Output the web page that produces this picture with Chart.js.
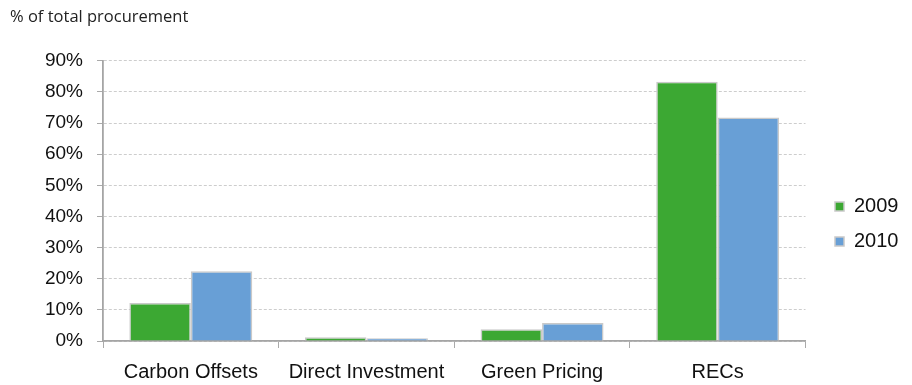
<!DOCTYPE html>
<html>
<head>
<meta charset="utf-8">
<title>% of total procurement</title>
<script src="https://cdn.jsdelivr.net/npm/chart.js"></script>
<style>
    html, body {
        margin: 0;
        padding: 0;
        background: #fff;
    }
    .chart-box {
        width: 912px;
        height: 385px;
    }
</style>
</head>
<body>
<div class="chart-box"><canvas id="procurementChart"></canvas></div>
<script>
    // values (percent of total procurement)
    const categories = ['Carbon Offsets', 'Direct Investment', 'Green Pricing', 'RECs'];
    const years = ['2009', '2010'];
    const values2009 = [12.2, 1.2, 3.8, 83.3];
    const values2010 = [22.4, 0.9, 5.8, 71.8];
    const yTicks = [0, 10, 20, 30, 40, 50, 60, 70, 80, 90];

    const barColors = ['#3ca833', '#689fd6'];
    const fontFamily = '"Liberation Sans", Arial, sans-serif';

    // nudge the legend next to the plot, like the original
    const legendShift = {
        id: 'legendShift',
        afterLayout(chart) {
            const lg = chart.legend;
            const dx = 835 - (lg.left + lg.options.labels.padding);
            const dy = 28;
            lg.left += dx; lg.right += dx;
            lg.top += dy; lg.bottom += dy;
        }
    };

    const ctx = document.getElementById('procurementChart');
    new Chart(ctx, {
        type: 'bar',
        data: {
            labels: categories,
            datasets: [values2009, values2010].map((vals, i) => ({
                label: years[i],
                data: vals,
                backgroundColor: barColors[i],
                borderColor: '#c9c9c9',
                borderWidth: 1.5,
                borderSkipped: 'bottom',
                categoryPercentage: 0.7,
                barPercentage: 1.0
            }))
        },
        options: {
            responsive: true,
            maintainAspectRatio: false,
            animation: false,
            layout: {
                padding: { left: 10, right: 18, top: 7, bottom: 0 }
            },
            plugins: {
                title: {
                    display: true,
                    text: '% of total procurement',
                    align: 'start',
                    color: '#222',
                    font: { family: '"Open Sans", sans-serif', size: 16.5, weight: 'normal' },
                    padding: { top: 0, bottom: 34 }
                },
                legend: {
                    position: 'right',
                    labels: {
                        color: '#111',
                        font: { family: fontFamily, size: 20 },
                        boxWidth: 9,
                        boxHeight: 9,
                        padding: 15
                    }
                },
                tooltip: { enabled: false }
            },
            scales: {
                x: {
                    offset: true,
                    afterFit: axis => { axis.height = 44; },
                    grid: {
                        offset: true,
                        drawOnChartArea: false,
                        drawTicks: true,
                        tickLength: 7,
                        color: '#aaa'
                    },
                    border: { color: '#a5a5a5', width: 1.8 },
                    ticks: {
                        color: '#111',
                        font: { family: fontFamily, size: 20 },
                        padding: 12,
                        maxRotation: 0
                    }
                },
                y: {
                    min: 0,
                    max: 90,
                    afterFit: axis => { axis.width = 93; },
                    afterBuildTicks: axis => {
                        axis.ticks = yTicks.map(v => ({ value: v }));
                    },
                    grid: {
                        color: '#cdcdcd',
                        tickLength: 6,
                        tickColor: '#aaa'
                    },
                    border: { color: '#a5a5a5', width: 1.8, dash: [3, 2] },
                    ticks: {
                        color: '#111',
                        font: { family: fontFamily, size: 19 },
                        padding: 14,
                        callback: v => v + '%'
                    }
                }
            }
        },
        plugins: [legendShift]
    });
</script>
</body>
</html>
